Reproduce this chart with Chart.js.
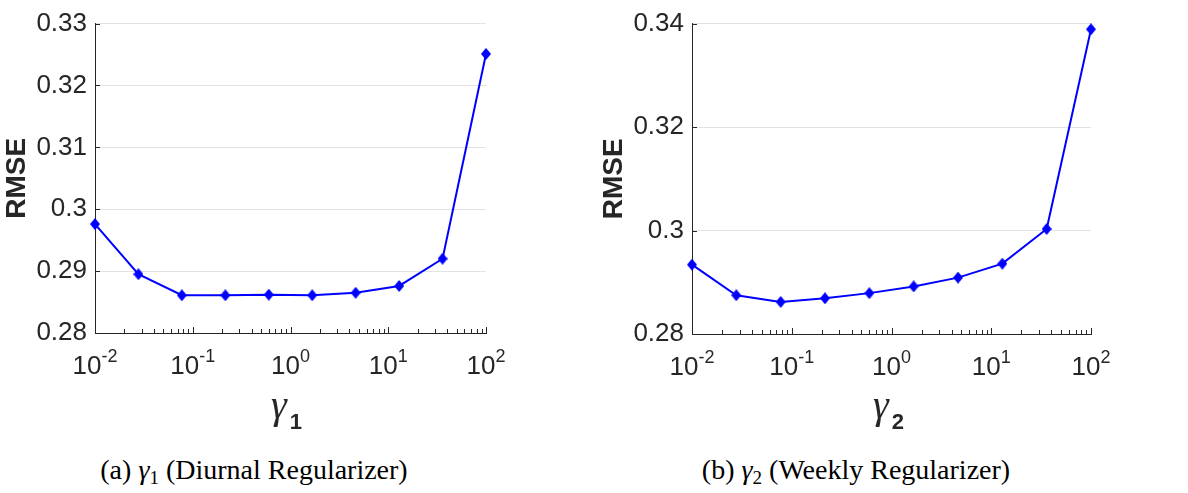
<!DOCTYPE html>
<html>
<head>
<meta charset="utf-8">
<script src="https://cdn.jsdelivr.net/npm/chart.js@4/dist/chart.umd.min.js"></script>
<style>
  body { margin: 0; background: #fff; width: 1188px; height: 493px; position: relative; overflow: hidden; }
  .panel { position: absolute; top: 0; }
  .xlab { position: absolute; font-family: "Liberation Serif", serif; font-style: italic; font-size: 40px; color: #262626; line-height: 1; white-space: nowrap; }
  .xlab b { font-family: "Liberation Sans", sans-serif; font-style: normal; font-size: 22px; position: relative; top: 11px; margin-left: 3px; }
  .cap { position: absolute; top: 454px; font-family: "Liberation Serif", serif; font-size: 28px; color: #000; white-space: nowrap; transform: translateX(-50%); }
  .cap sub { font-size: 19px; vertical-align: -5px; }
</style>
</head>
<body>
<div class="panel" style="left:0"><canvas id="chartA" width="510" height="400"></canvas></div>
<div class="panel" style="left:597px"><canvas id="chartB" width="520" height="400"></canvas></div>

<div class="xlab" style="left:271px; top:385px">γ<b>1</b></div>
<div class="xlab" style="left:873px; top:385px">γ<b>2</b></div>

<div class="cap" style="left:254px">(a) <i>γ</i><sub>1</sub> (Diurnal Regularizer)</div>
<div class="cap" style="left:856px">(b) <i>γ</i><sub>2</sub> (Weekly Regularizer)</div>

<script>
// gamma values (log spaced, 1e-2 .. 1e2)
const gammas = [0.01, 0.0278, 0.0774, 0.2154, 0.5995, 1.668, 4.642, 12.92, 35.94, 100];
const rmseDiurnal = [0.2976, 0.2895, 0.2861, 0.2861, 0.2862, 0.2861, 0.2865, 0.2876, 0.2920, 0.3251];
const rmseWeekly = [0.2934, 0.2875, 0.2862, 0.2869, 0.2879, 0.2892, 0.2909, 0.2936, 0.3003, 0.3389];

const xDecades = [0.01, 0.1, 1, 10, 100];
const xExponents = ['-2', '-1', '0', '1', '2'];

const axisColor = '#262626';
const gridColor = '#e3e3e3';
const lineBlue = '#0000ff';

// matlab style diamond, taller than wide
function makeDiamond() {
    const c = document.createElement('canvas');
    c.width = 10; c.height = 12;
    const g = c.getContext('2d');
    g.fillStyle = lineBlue;
    g.beginPath();
    g.moveTo(5, 0); g.lineTo(10, 6); g.lineTo(5, 12); g.lineTo(0, 6);
    g.closePath();
    g.fill();
    return c;
}
const diamond = makeDiamond();

// draws inward tick marks and 10^n labels
const axisDecor = {
    id: 'axisDecor',
    afterDraw(chart) {
        const {ctx, chartArea, scales: {x, y}} = chart;
        ctx.save();
        ctx.strokeStyle = axisColor;
        ctx.lineWidth = 1;
        ctx.beginPath();
        xDecades.forEach((d, i) => {
            const px = Math.round(x.getPixelForValue(d)) + 0.5;
            ctx.moveTo(px, chartArea.bottom);
            ctx.lineTo(px, chartArea.bottom - 6);
            if (i < xDecades.length - 1) {
                for (let m = 2; m <= 9; m++) {
                    const mx = Math.round(x.getPixelForValue(d * m)) + 0.5;
                    ctx.moveTo(mx, chartArea.bottom);
                    ctx.lineTo(mx, chartArea.bottom - 4);
                }
            }
        });
        y.ticks.forEach(t => {
            const py = Math.round(y.getPixelForValue(t.value)) + 0.5;
            ctx.moveTo(chartArea.left, py);
            ctx.lineTo(chartArea.left + 5, py);
        });
        ctx.stroke();

        ctx.fillStyle = axisColor;
        ctx.textBaseline = 'alphabetic';
        ctx.textAlign = 'left';
        xDecades.forEach((d, i) => {
            const px = x.getPixelForValue(d);
            ctx.font = '26px "Liberation Sans"';
            const w1 = ctx.measureText('10').width;
            ctx.font = '18px "Liberation Sans"';
            const w2 = ctx.measureText(xExponents[i]).width;
            const start = px - (w1 + w2) / 2;
            ctx.font = '26px "Liberation Sans"';
            ctx.fillText('10', start, chartArea.bottom + 41);
            ctx.font = '18px "Liberation Sans"';
            ctx.fillText(xExponents[i], start + w1, chartArea.bottom + 29);
        });
        ctx.restore();
    }
};

function makeChart(id, values, yMin, yMax, yStep, padRight, xHeight) {
    return new Chart(document.getElementById(id), {
        type: 'line',
        data: {
            datasets: [{
                data: gammas.map((g, i) => ({x: g, y: values[i]})),
                borderColor: lineBlue,
                borderWidth: 2,
                pointStyle: diamond,
                pointRadius: 6,
                fill: false,
                tension: 0,
                clip: false
            }]
        },
        options: {
            responsive: false,
            animation: false,
            layout: { padding: { top: 16, right: padRight, bottom: 0, left: 0 } },
            plugins: { legend: { display: false }, tooltip: { enabled: false } },
            scales: {
                x: {
                    type: 'logarithmic',
                    min: 0.01,
                    max: 100,
                    grid: { display: false },
                    border: { display: true, color: axisColor, width: 1 },
                    ticks: { display: false },
                    afterFit(scale) { scale.height = xHeight; }
                },
                y: {
                    min: yMin,
                    max: yMax,
                    grid: { color: gridColor, lineWidth: 1, drawTicks: false },
                    border: { display: true, color: axisColor, width: 1 },
                    ticks: {
                        stepSize: yStep,
                        padding: 8,
                        color: axisColor,
                        font: { family: 'Liberation Sans', size: 26 },
                        callback: v => String(+v.toFixed(2))
                    },
                    title: {
                        display: true,
                        text: 'RMSE',
                        color: axisColor,
                        padding: 0,
                        font: { family: 'Liberation Sans', size: 28, weight: 'bold' }
                    },
                    afterFit(scale) { scale.width = 95; }
                }
            }
        },
        plugins: [axisDecor]
    });
}

makeChart('chartA', rmseDiurnal, 0.28, 0.33, 0.01, 24, 67);
makeChart('chartB', rmseWeekly, 0.28, 0.34, 0.02, 26, 66);
</script>
</body>
</html>
